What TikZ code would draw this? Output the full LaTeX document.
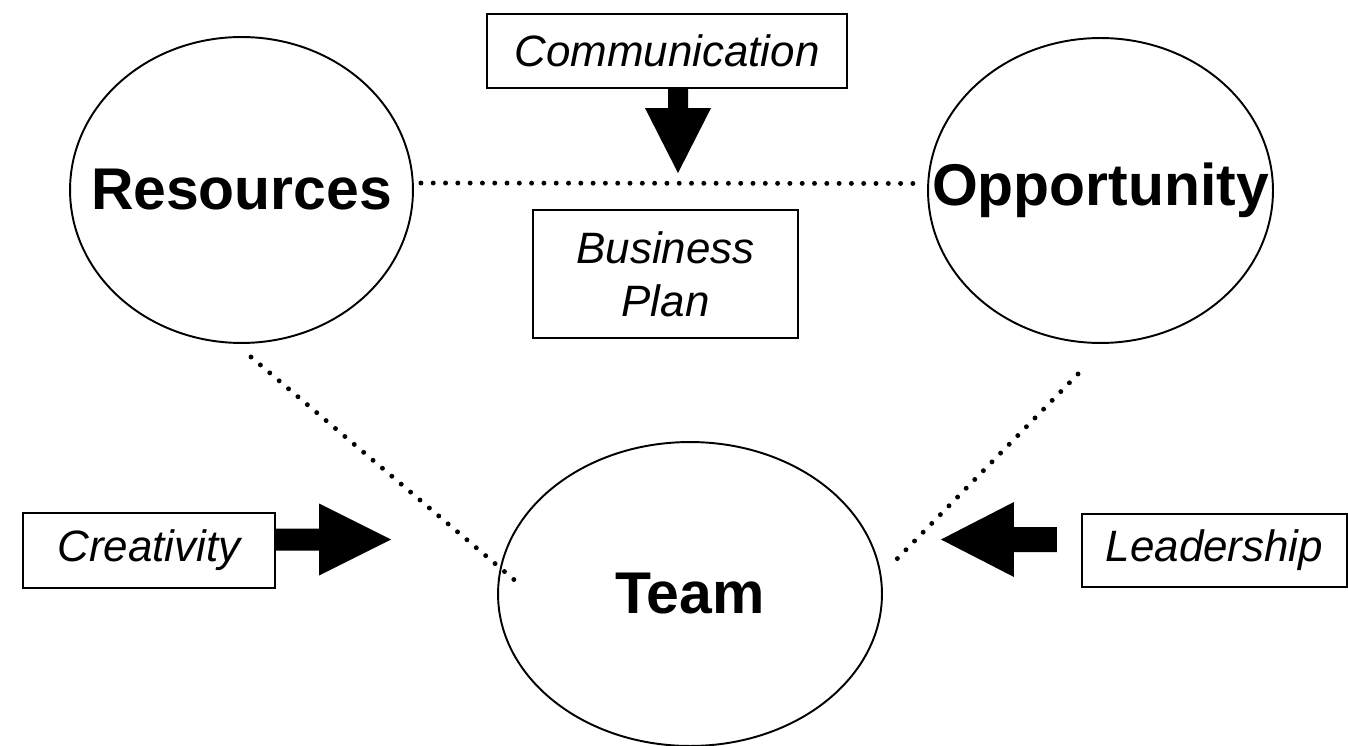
\documentclass[tikz,border=0pt]{standalone}
\usepackage{fontspec}
\setmainfont{Liberation Sans}
\usepackage{tikz}
\usetikzlibrary{shapes}
\usetikzlibrary{positioning}

\begin{document}
\begin{tikzpicture}[x=0.02cm,y=-0.02cm,
  bubble/.style={ellipse,draw,line width=1.1pt,inner sep=0pt,
    font=\fontsize{33.5}{40}\selectfont\bfseries},
  tag/.style={rectangle,draw,line width=1.2pt,inner sep=0pt,align=center,
    font=\fontsize{25}{30}\selectfont\itshape},
  dotline/.style={line width=2.8pt,line cap=round,dash pattern=on 0pt off 7pt}]
  \useasboundingbox (0,0) rectangle (1348,746);

  \node[bubble,minimum width=6.86cm,minimum height=6.12cm] (res) at (241.5,190) {\makebox[0pt]{Resources}};
  \node[bubble,minimum width=6.9cm,minimum height=6.1cm] (opp) at (1100.5,190.5) {\makebox[0pt]{Opportunity}};
  \node[bubble,minimum width=7.68cm,minimum height=6.08cm] (team) at (690,594) {\makebox[0pt]{Team}};

  \node[tag,minimum width=7.2cm,minimum height=1.48cm] (comm) at (667,51) {Communication};
  \node[tag,minimum width=5.3cm,minimum height=2.56cm] (plan) at (665.5,274) {Business\\ Plan};
  \node[tag,minimum width=5.04cm,minimum height=1.5cm] (crea) at (149,550.5) {Creativity};
  \node[tag,minimum width=5.3cm,minimum height=1.46cm] (lead) at (1214.5,550.5) {Leadership};

  \coordinate (resfoot) at (251,357);
  \coordinate (teamleft) at (518,583);
  \coordinate (oppfoot) at (1078,374);
  \coordinate (teamright) at (894,562);

  % dotted links
  \draw[dotline] ([shift={(0.14cm,0.14cm)}]res.east) -- ([shift={(-0.06cm,0.14cm)}]opp.west);
  \draw[dotline] (resfoot) -- (teamleft);
  \draw[dotline] (oppfoot) -- (teamright);

  % block arrows
  \fill (comm.south) ++(1,0) -- ++(0,19) -- ++(-23,0) -- ++(33,65) -- ++(33,-65)
    -- ++(-23,0) -- ++(0,-19) -- cycle;
  \fill (crea.east) -- ++(43,0) -- ++(0,25) -- ++(72,-36) -- ++(-72,-36)
    -- ++(0,25) -- ++(-43,0) -- cycle;
  \fill (lead.west) ++(-24,1.5) -- ++(-43,0) -- ++(0,25) -- ++(-73,-37.5) -- ++(73,-37.5)
    -- ++(0,25) -- ++(43,0) -- cycle;
\end{tikzpicture}
\end{document}
